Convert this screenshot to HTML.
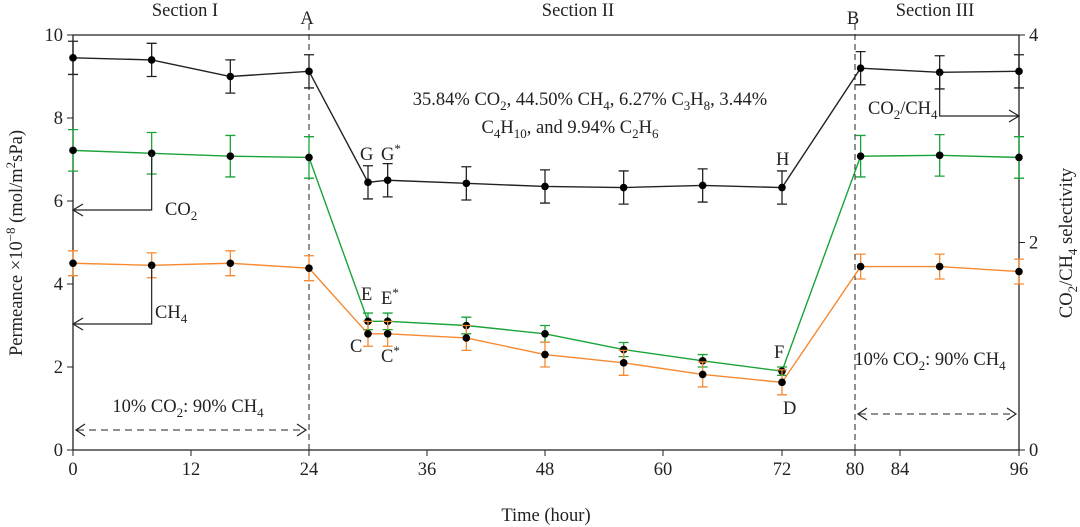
<!DOCTYPE html>
<html><head><meta charset="utf-8"><style>
body{margin:0;background:#fff}
svg{display:block;font-family:"Liberation Serif",serif}
</style></head><body>
<svg id="chart" width="1080" height="527" viewBox="0 0 1080 527"></svg>
<script>
const times=[0,8,16,24,30,32,40,48,56,64,72,80.5,88,96];
const co2=[7.22,7.15,7.08,7.05,3.1,3.1,3.0,2.8,2.42,2.15,1.9,7.08,7.1,7.05];
const co2Err=[0.5,0.5,0.5,0.5,0.2,0.2,0.2,0.2,0.17,0.15,0.1,0.5,0.5,0.5];
const ch4=[4.5,4.45,4.5,4.38,2.8,2.8,2.7,2.3,2.1,1.82,1.63,4.42,4.42,4.3];
const ch4Err=[0.3,0.3,0.3,0.3,0.3,0.3,0.3,0.3,0.3,0.3,0.3,0.3,0.3,0.3];
const sel=[3.78,3.76,3.6,3.65,2.58,2.6,2.57,2.54,2.53,2.55,2.53,3.68,3.64,3.65];
const selErr=[0.16,0.16,0.16,0.16,0.16,0.16,0.16,0.16,0.16,0.16,0.16,0.16,0.16,0.16];
const xTicks=[0,12,24,36,48,60,72,80,84,96];
const xTickPx=[73,191,309,427,545,663,782,855,900,1019];
const yTicks=[0,2,4,6,8,10];
const y2Ticks=[0,2,4];

const NS="http://www.w3.org/2000/svg";
const svg=document.getElementById('chart');
const FS=18.5;
function X(t){for(let i=0;i<xTicks.length-1;i++){if(t<=xTicks[i+1]||i==xTicks.length-2){const a=xTicks[i],b=xTicks[i+1];return xTickPx[i]+(t-a)/(b-a)*(xTickPx[i+1]-xTickPx[i]);}}}
function Y(v){return 450-v*41.5;}
function Y2(v){return 450-v*103.75;}
function el(tag,attrs,parent){const e=document.createElementNS(NS,tag);for(const k in attrs)e.setAttribute(k,attrs[k]);(parent||svg).appendChild(e);return e;}
function txt(x,y,html,size,anchor,name){const t=el('text',{x:x,y:y,'font-size':size||FS,'text-anchor':anchor||'start',fill:'#222'});t.innerHTML=html;


return t;}
const L=73,R=1019,T=35,B=450;
let f=el('path',{d:`M${L},${T}H${R}V${B}H${L}Z`,fill:'none',stroke:'#222','stroke-width':1.3});


xTicks.forEach((t,i)=>{el('line',{x1:X(t),x2:X(t),y1:B,y2:B+6,stroke:'#222'});
 txt(X(t),B+25,t,FS,'middle','x-tick-label');});
yTicks.forEach(v=>{el('line',{x1:L-6,x2:L,y1:Y(v),y2:Y(v),stroke:'#222'});txt(L-10,Y(v)+6,v,FS,'end','y-tick-label');});
y2Ticks.forEach(v=>{el('line',{x1:R,x2:R+6,y1:Y2(v),y2:Y2(v),stroke:'#222'});txt(R+10,Y2(v)+6,v,FS,'start','y2-tick-label');});
txt(546,521,'Time (hour)',FS,'middle','x-axis-title');
let yt=txt(0,0,'Permeance ×10<tspan dy="-7" font-size="13">−8</tspan><tspan dy="7"> (mol/m</tspan><tspan dy="-7" font-size="13">2</tspan><tspan dy="7">sPa)</tspan>',FS,'middle','y-axis-title');
yt.setAttribute('transform','translate(22,243) rotate(-90)');
let y2t=txt(0,0,'CO<tspan dy="5" font-size="13">2</tspan><tspan dy="-5">/CH</tspan><tspan dy="5" font-size="13">4</tspan><tspan dy="-5"> selectivity</tspan>',FS,'middle','y2-axis-title');
y2t.setAttribute('transform','translate(1072,243) rotate(-90)');
[[24,'A'],[80,'B']].forEach(([t,lab])=>{el('line',{x1:X(t),x2:X(t),y1:24,y2:B,stroke:'#222','stroke-dasharray':'6,4'});txt(X(t)-2,24,lab,FS,'middle','section-marker-'+lab);});
txt(185,16,'Section I',FS,'middle','section-1-label');
txt(578,16,'Section II',FS,'middle','section-2-label');
txt(935,16,'Section III',FS,'middle','section-3-label');
function series(vals,errs,yf,color,name){
 const p=el('polyline',{points:times.map((t,i)=>X(t)+','+yf(vals[i])).join(' '),fill:'none',stroke:color,'stroke-width':1.4});
 
 
 times.forEach((t,i)=>{const x=X(t),y1=yf(vals[i]-errs[i]),y2=yf(vals[i]+errs[i]);
  el('path',{d:`M${x},${y1}V${y2}M${x-5},${y1}H${x+5}M${x-5},${y2}H${x+5}`,stroke:color,'stroke-width':1.3,fill:'none'});
  const c=el('circle',{cx:x,cy:yf(vals[i]),r:3.8,fill:'#000'});
  
  });
}
series(co2,co2Err,Y,'#1aa33a','co2');
series(ch4,ch4Err,Y,'#f58a33','ch4');
series(sel,selErr,Y2,'#222','selectivity');
function arrowPath(d){el('path',{d:d,fill:'none',stroke:'#222','stroke-width':1.2});}
arrowPath(`M${X(8)},${Y(7.15)}V210H${L}M${L+10},204L${L},210L${L+10},216`);
arrowPath(`M${X(8)},${Y(4.45)}V324H${L}M${L+10},318L${L},324L${L+10},330`);
arrowPath(`M${X(88)},${Y2(3.64)}V116H${R}M${R-10},110L${R},116L${R-10},122`);
txt(165,215,'CO<tspan dy="5" font-size="13">2</tspan>',FS,'start','co2-label');
txt(155,318,'CH<tspan dy="5" font-size="13">4</tspan>',FS,'start','ch4-label');
txt(868,114,'CO<tspan dy="5" font-size="13">2</tspan><tspan dy="-5">/CH</tspan><tspan dy="5" font-size="13">4</tspan>',FS,'start','selectivity-label');
txt(590,105,'35.84% CO<tspan dy="5" font-size="13">2</tspan><tspan dy="-5">, 44.50% CH</tspan><tspan dy="5" font-size="13">4</tspan><tspan dy="-5">, 6.27% C</tspan><tspan dy="5" font-size="13">3</tspan><tspan dy="-5">H</tspan><tspan dy="5" font-size="13">8</tspan><tspan dy="-5">, 3.44%</tspan>',FS,'middle','feed-composition-line1');
txt(570,133,'C<tspan dy="5" font-size="13">4</tspan><tspan dy="-5">H</tspan><tspan dy="5" font-size="13">10</tspan><tspan dy="-5">, and 9.94% C</tspan><tspan dy="5" font-size="13">2</tspan><tspan dy="-5">H</tspan><tspan dy="5" font-size="13">6</tspan>',FS,'middle','feed-composition-line2');
txt(188,412,'10% CO<tspan dy="5" font-size="13">2</tspan><tspan dy="-5">: 90% CH</tspan><tspan dy="5" font-size="13">4</tspan>',FS,'middle','feed-label-section1');
txt(930,365,'10% CO<tspan dy="5" font-size="13">2</tspan><tspan dy="-5">: 90% CH</tspan><tspan dy="5" font-size="13">4</tspan>',FS,'middle','feed-label-section3');
el('path',{d:`M${L+4},430H${X(24)-4}`,stroke:'#222','stroke-dasharray':'7,5',fill:'none'});
arrowPath(`M${L+12},424L${L+3},430L${L+12},436M${X(24)-12},424L${X(24)-3},430L${X(24)-12},436`);
el('path',{d:`M${X(80)+4},414H${R-4}`,stroke:'#222','stroke-dasharray':'7,5',fill:'none'});
arrowPath(`M${X(80)+12},408L${X(80)+3},414L${X(80)+12},420M${R-12},408L${R-3},414L${R-12},420`);
[['G',360,160],['G<tspan dy="-7" font-size="13">*</tspan>',381,160],['E',361,300],['E<tspan dy="-7" font-size="13">*</tspan>',381,304],['C',350,352],['C<tspan dy="-7" font-size="13">*</tspan>',381,362],['H',776,165],['F',774,358],['D',783,414]].forEach(a=>txt(a[1],a[2],a[0],FS,'start','point-label'));
</script>
</body></html>
